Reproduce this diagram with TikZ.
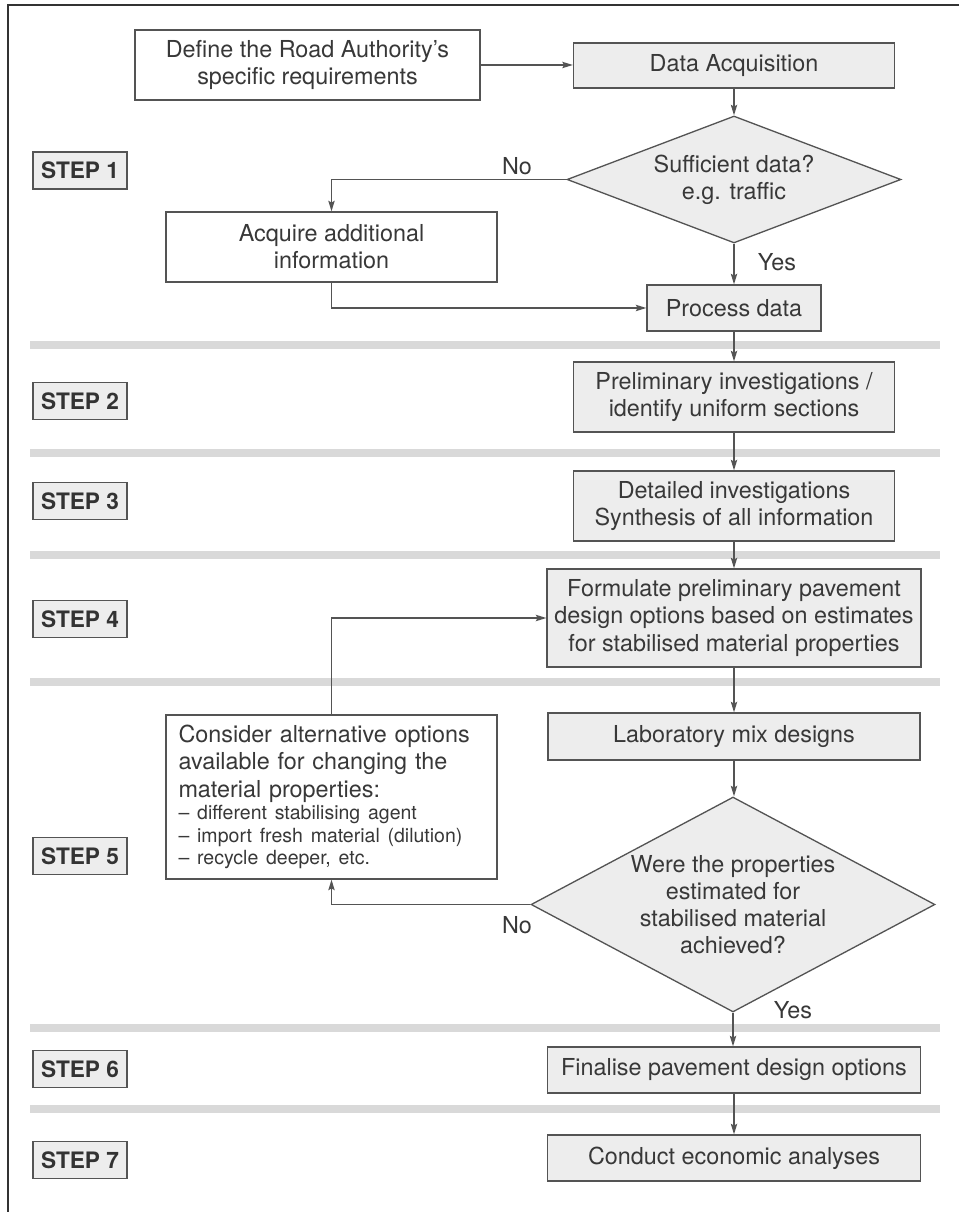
\documentclass[tikz,border=0pt]{standalone}
\usepackage{fontspec}
\setmainfont{TeX Gyre Heros}
\usetikzlibrary{shapes.geometric,arrows.meta}
\definecolor{linegray}{gray}{0.33}
\definecolor{textgray}{gray}{0.22}
\definecolor{boxgray}{gray}{0.93}
\definecolor{bandgray}{gray}{0.85}

\begin{document}
\begin{tikzpicture}[x=0.02cm,y=-0.02cm,
	every node/.style={text=textgray,font=\fontsize{13.3}{15.5}\selectfont},
	plainbox/.style={draw=linegray,line width=0.75pt,fill=white,inner sep=0pt,align=center},
	greybox/.style={plainbox,fill=boxgray},
	decision/.style={diamond,draw=linegray,line width=0.75pt,fill=boxgray,inner sep=0pt,align=center},
	steplabel/.style={draw=linegray,line width=0.75pt,fill=boxgray,inner sep=0pt,minimum width=1.88cm,minimum height=0.74cm,text=black!80,font=\bfseries\fontsize{12.9}{15}\selectfont},
	band/.style={draw=bandgray,line width=4pt},
	arr/.style={draw=linegray,line width=0.75pt,-{Stealth[length=6pt,width=3.6pt,inset=1pt]}},
	lbl/.style={inner sep=0pt}]
					\useasboundingbox (0,0) rectangle (959,1212);
					\draw [black!80,line width=1.1pt] (959,5) -- (8,5) -- (8,1212);

					\foreach \y in {345,453,555,682,1028,1109}
						\draw [band] (30,\y) -- (940,\y);

					\foreach \n/\y in {1/170.5,2/401,3/501,4/619,5/856,6/1069,7/1160}
						\node [steplabel] (step\n) at (80,\y) {STEP \n};

					\node [plainbox,minimum width=6.9cm,minimum height=1.4cm] (define) at (307.5,65) {Define the Road Authority's\\specific requirements};
					\node [greybox,minimum width=6.42cm,minimum height=0.9cm] (acq) at (734,65.5) {Data Acquisition};
					\node [decision,aspect=2.63,minimum width=6.68cm,minimum height=2.54cm] (suff) at (734,179.5) {Sufficient data?\\e.g. traffic};
					\node [plainbox,minimum width=6.62cm,minimum height=1.4cm] (extra) at (331.5,247) {Acquire additional\\information};
					\node [greybox,minimum width=3.48cm,minimum height=0.92cm] (proc) at (734,308) {Process data};
					\node [greybox,minimum width=6.42cm,minimum height=1.4cm] (prelim) at (734,397) {Preliminary investigations /\\identify uniform sections};
					\node [greybox,minimum width=6.42cm,minimum height=1.4cm] (detail) at (734,506) {Detailed investigations\\Synthesis of all information};
					\node [greybox,minimum width=7.48cm,minimum height=1.96cm] (formul) at (734,618) {Formulate preliminary pavement\\design options based on estimates\\for stabilised material properties};
					\node [greybox,minimum width=7.44cm,minimum height=0.94cm] (lab) at (734,736.5) {Laboratory mix designs};
					\node [decision,aspect=1.88,minimum width=8.08cm,minimum height=4.3cm] (achv) at (733,904.5) {Were the properties\\estimated for\\stabilised material\\achieved?};
					\node [plainbox,minimum width=6.62cm,minimum height=3.28cm,text width=6.12cm,align=left] (alt) at (331.5,797) {Consider alternative options\\available for changing the\\material properties:\par
						{\fontsize{11.1}{12.8}\selectfont -- different stabilising agent\\-- import fresh material (dilution)\\-- recycle deeper, etc.\par}};
					\node [greybox,minimum width=7.46cm,minimum height=0.92cm] (final) at (734,1070) {Finalise pavement design options};
					\node [greybox,minimum width=7.46cm,minimum height=0.92cm] (econ) at (734,1158) {Conduct economic analyses};

					\node [lbl] (no1) at (517,166) {No};
					\node [lbl] (yes1) at (777,262) {Yes};
					\node [lbl] (no2) at (517,925) {No};
					\node [lbl] (yes2) at (793,1010) {Yes};

					\draw [arr] (define.east) -- (define.east -| acq.west);
					\draw [arr] (acq) -- (suff);
					\draw [arr] (suff.west) -| (extra.north);
					\draw [arr] (suff) -- (proc);
					\draw [arr] (extra.south) |- (proc.west);
					\draw [arr] (proc) -- (prelim);
					\draw [arr] (prelim) -- (detail);
					\draw [arr] (detail) -- (formul);
					\draw [arr] (formul) -- (lab);
					\draw [arr] (lab.south) -- (lab.south |- achv.north);
					\draw [arr] (achv.west) -| (alt.south);
					\draw [arr] (alt.north) |- (formul.west);
					\draw [arr] (achv.south) -- (achv.south |- final.north);
					\draw [arr] (final) -- (econ);
				\end{tikzpicture}
\end{document}
